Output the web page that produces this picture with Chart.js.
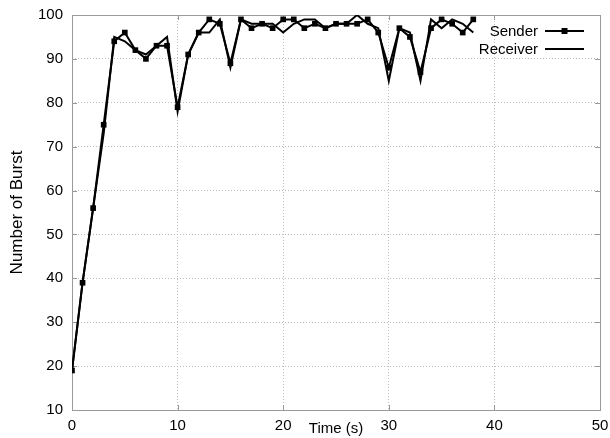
<!DOCTYPE html>
<html>
<head>
<meta charset="utf-8">
<script src="https://cdn.jsdelivr.net/npm/chart.js@4/dist/chart.umd.min.js"></script>
<style>
  html, body { margin: 0; padding: 0; background: #fff; }
  #wrap { width: 610px; height: 438px; }
</style>
</head>
<body>
<div id="wrap"><canvas id="c" width="610" height="438"></canvas></div>
<script>
// Time stamps (s) and burst counts per second
const times    = [0, 1, 2, 3, 4, 5, 6, 7, 8, 9, 10, 11, 12, 13, 14, 15, 16, 17, 18, 19,
                  20, 21, 22, 23, 24, 25, 26, 27, 28, 29, 30, 31, 32, 33, 34, 35, 36, 37, 38];
const sender   = [19, 39, 56, 75, 94, 96, 92, 90, 93, 93, 79, 91, 96, 99, 98, 89, 99, 97, 98, 97,
                  99, 99, 97, 98, 97, 98, 98, 98, 99, 96, 88, 97, 95, 87, 97, 99, 98, 96, 99];
const receiver = [19, 39, 56, 73, 95, 94, 92, 91, 93, 95, 78, 91, 96, 96, 99, 88, 99, 98, 98, 98,
                  96, 98, 99, 99, 97, 98, 98, 100, 98, 97, 85, 97, 96, 85, 99, 97, 99, 98, 96];

const xTicks = [0, 10, 20, 30, 40, 50];
const yTicks = [10, 20, 30, 40, 50, 60, 70, 80, 90, 100];

const FONT = "'Liberation Sans', Arial, Helvetica, sans-serif";

const toPoints = (ys) => times.map((t, i) => ({ x: t, y: ys[i] }));

// Plot frame with small inward tick marks on all four sides
const framePlugin = {
  id: 'frame',
  beforeDatasetsDraw(chart) {
    const { ctx, chartArea: a, scales } = chart;
    ctx.save();
    ctx.strokeStyle = '#9a9a9a';
    ctx.lineWidth = 1;
    ctx.strokeRect(Math.round(a.left) + 0.5, Math.round(a.top) + 0.5,
                   Math.round(a.right - a.left), Math.round(a.bottom - a.top));
    ctx.beginPath();
    const tl = 5;
    xTicks.forEach(v => {
      const px = Math.round(scales.x.getPixelForValue(v)) + 0.5;
      ctx.moveTo(px, a.bottom); ctx.lineTo(px, a.bottom - tl);
      ctx.moveTo(px, a.top); ctx.lineTo(px, a.top + tl);
    });
    yTicks.forEach(v => {
      const py = Math.round(scales.y.getPixelForValue(v)) + 0.5;
      ctx.moveTo(a.left, py); ctx.lineTo(a.left + tl, py);
      ctx.moveTo(a.right, py); ctx.lineTo(a.right - tl, py);
    });
    ctx.stroke();
    ctx.restore();
  }
};

// Key in the upper right corner: label text followed by a line sample
const keyPlugin = {
  id: 'key',
  afterDraw(chart) {
    const { ctx } = chart;
    const textRight = 538, x0 = 545, x1 = 584, rows = [31, 49];
    ctx.save();
    ctx.font = '15px ' + FONT;
    ctx.textAlign = 'right';
    ctx.textBaseline = 'middle';
    chart.data.datasets.forEach((ds, i) => {
      const y = rows[i];
      ctx.fillStyle = '#000';
      ctx.fillText(ds.label, textRight, y + 1);
      ctx.strokeStyle = ds.borderColor;
      ctx.lineWidth = ds.borderWidth;
      ctx.beginPath();
      ctx.moveTo(x0, y); ctx.lineTo(x1, y);
      ctx.stroke();
      if (ds.pointRadius > 0) {
        const s = 3;
        ctx.fillStyle = ds.pointBackgroundColor;
        ctx.fillRect((x0 + x1) / 2 - s, y - s, 2 * s, 2 * s);
      }
    });
    ctx.restore();
  }
};

new Chart(document.getElementById('c'), {
  type: 'line',
  data: {
    datasets: [
      {
        label: 'Sender',
        data: toPoints(sender),
        borderColor: '#000',
        borderWidth: 2,
        pointStyle: 'rect',
        pointRadius: 4,
        pointBackgroundColor: '#000',
        pointBorderColor: '#000',
        pointBorderWidth: 0,
        tension: 0
      },
      {
        label: 'Receiver',
        data: toPoints(receiver),
        borderColor: '#000',
        borderWidth: 2,
        pointRadius: 0,
        pointBackgroundColor: '#000',
        tension: 0
      }
    ]
  },
  options: {
    responsive: false,
    animation: false,
    layout: { padding: { top: 15, right: 10, left: 0, bottom: 0 } },
    plugins: {
      legend: { display: false },
      tooltip: { enabled: false }
    },
    scales: {
      x: {
        type: 'linear',
        min: 0, max: 50,
        afterFit(scale) {
          scale.height = 28;
          scale.paddingLeft = 0;
          scale.paddingRight = 0;
        },
        afterBuildTicks(scale) { scale.ticks = xTicks.map(v => ({ value: v })); },
        ticks: { font: { family: FONT, size: 15 }, color: '#000', padding: 7, maxRotation: 0 },
        grid: { color: '#bdbdbd', lineWidth: 1, drawTicks: false },
        border: { display: false, dash: [1, 2] },
        title: {
          display: true, text: 'Time (s)',
          font: { family: FONT, size: 15 }, color: '#000',
          padding: { top: 0, bottom: 0 }
        }
      },
      y: {
        type: 'linear',
        min: 10, max: 100,
        afterFit(scale) {
          scale.width = 72;
          scale.paddingTop = 0;
          scale.paddingBottom = 0;
        },
        afterBuildTicks(scale) { scale.ticks = yTicks.map(v => ({ value: v })); },
        ticks: { font: { family: FONT, size: 15 }, color: '#000', padding: 9 },
        grid: { color: '#bdbdbd', lineWidth: 1, drawTicks: false },
        border: { display: false, dash: [1, 2] },
        title: {
          display: true, text: 'Number of Burst',
          font: { family: FONT, size: 17 }, color: '#000',
          padding: { top: 7, bottom: 0 }
        }
      }
    }
  },
  plugins: [framePlugin, keyPlugin]
});
</script>
</body>
</html>
